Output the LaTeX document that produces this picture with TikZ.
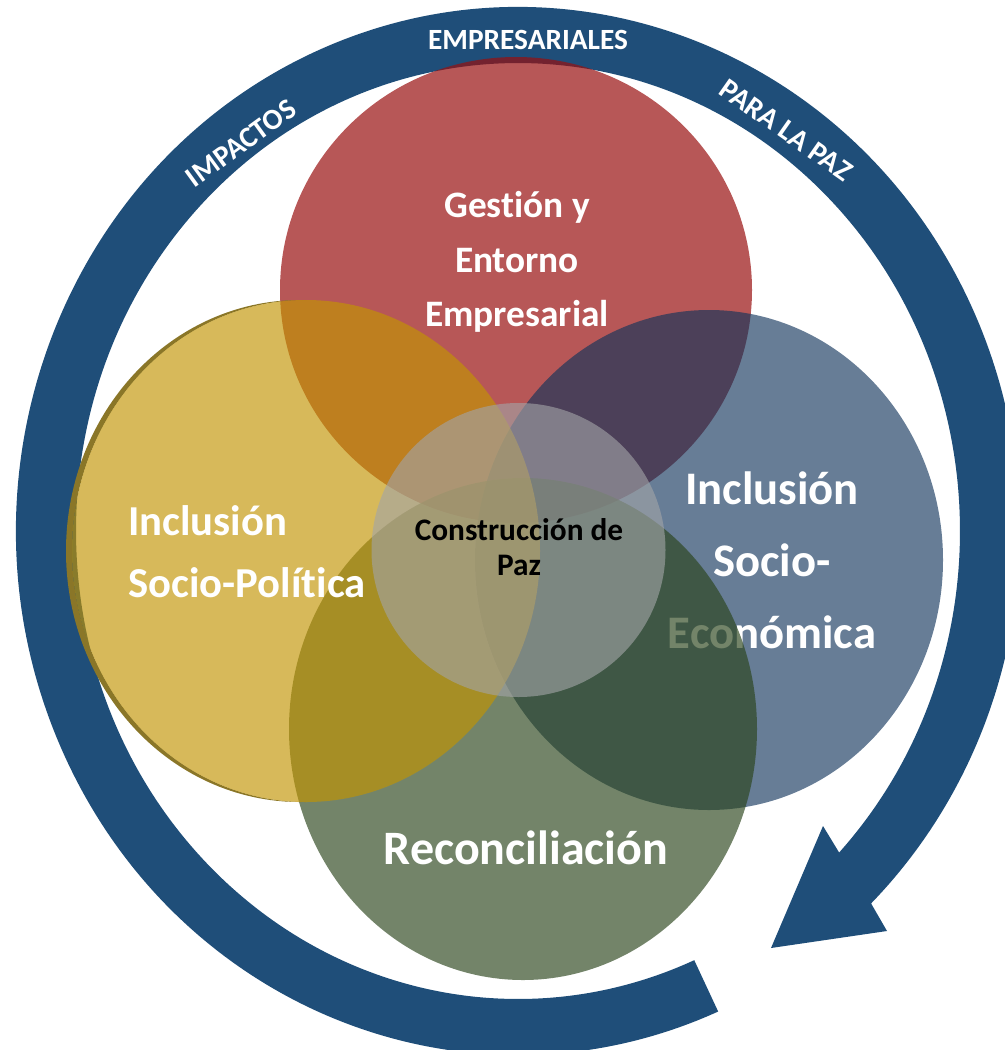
\documentclass[tikz,border=0pt]{standalone}
\usepackage{fontspec}
\setmainfont{Carlito}[Ligatures=NoCommon]
\usepackage{tikz}
\usetikzlibrary{calc}

\definecolor{ringblue}{RGB}{31,78,121}
\definecolor{gestionred}{RGB}{152,16,16}
\definecolor{politicagold}{RGB}{194,148,2}
\definecolor{economicablue}{RGB}{17,52,91}
\definecolor{reconcgreen}{RGB}{43,69,28}
\definecolor{pazgrey}{RGB}{163,164,167}
\definecolor{rimolive}{RGB}{138,118,40}

\tikzset{
	ringtext/.style={text=white, inner sep=0pt, font=\bfseries\fontsize{22}{26}\selectfont},
	circletext/.style={text=white, inner sep=0pt, align=center},
}

\begin{document}
\begin{tikzpicture}[x=0.75pt,y=0.75pt,yscale=-1]
	\useasboundingbox (0,0) rectangle (1005,1050);
	\clip (0,0) rectangle (1005,1050);
	
	\coordinate (ringc) at (518,531);
	
	% circular arrow
	\fill[ringblue] ($(ringc)+(66.5:502 and 524)$) arc[start angle=66.5, end angle=405.3, x radius=502, y radius=524]
		-- (887,931) -- (771,948) -- (823,826)
		-- ($(ringc)+(403.4:442 and 468)$) arc[start angle=403.4, end angle=66.5, x radius=442, y radius=468] -- cycle;
	
	\node[ringtext, rotate=36] (impactos) at (241,143) {IMPACTOS};
	\node[ringtext] (empresariales) at (528,40) {EMPRESARIALES};
	\node[ringtext, rotate=-35] (parapaz) at (786,130) {PARA LA PAZ};
	
	% Gestion
	\fill[gestionred, fill opacity=0.7] (516,290) ellipse [x radius=236, y radius=233];
	\node[circletext, font=\bfseries\fontsize{28}{41}\selectfont] (gestion) at (517,262) {Gestión y\\Entorno\\Empresarial};
	
	% Socio-Economica
	\fill[economicablue, fill opacity=0.64] (709,560) ellipse [x radius=234, y radius=250];
	\node[circletext, font=\bfseries\fontsize{35}{54}\selectfont] (economica) at (772,560) {Inclusión\\Socio-\\Económica};
	
	% Reconciliacion
	\fill[reconcgreen, fill opacity=0.66] (523,729) ellipse [x radius=234, y radius=251];
	\node[circletext, font=\bfseries\fontsize{36}{40}\selectfont] (reconciliacion) at (526,848) {Reconciliación};
	
	% Socio-Politica
	\begin{scope}
		\clip (0,0) rectangle (306,1050);
		\fill[rimolive, even odd rule] (300,551) ellipse [x radius=234, y radius=251] (306,551) ellipse [x radius=234, y radius=251];
	\end{scope}
	\fill[politicagold, fill opacity=0.65] (306,551) ellipse [x radius=234, y radius=251];
	\node[circletext, align=left, anchor=west, font=\bfseries\fontsize{32}{46.5}\selectfont] (politica) at (128,552) {Inclusión\\Socio-Política};
	
	% centro
	\fill[pazgrey, fill opacity=0.62] (518.5,550) circle [radius=147];
	\node[circletext, text=black, font=\bfseries\fontsize{23.5}{26}\selectfont] (paz) at (519,547) {Construcción de\\Paz};
	
\end{tikzpicture}
\end{document}
